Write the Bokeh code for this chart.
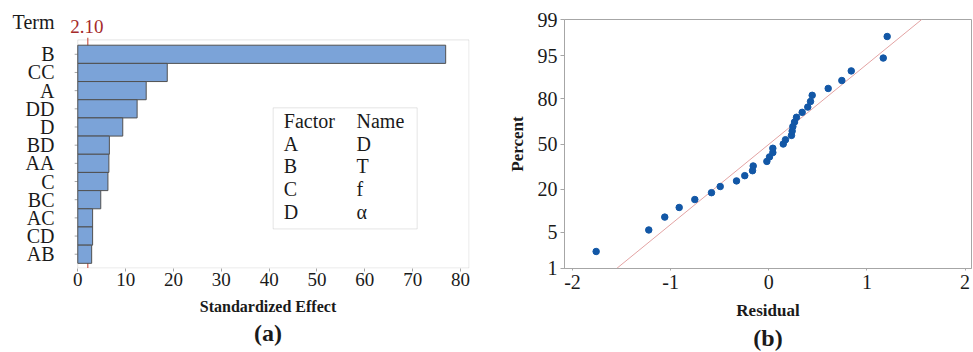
from statistics import NormalDist
from bokeh.plotting import figure
from bokeh.layouts import row
from bokeh.models import FixedTicker, Label, BoxAnnotation, Range1d, Title
from bokeh.embed import file_html
from bokeh.resources import INLINE

# ---------------- data ----------------
terms = ["B", "CC", "A", "DD", "D", "BD", "AA", "C", "BC", "AC", "CD", "AB"]
effects = [76.9, 18.7, 14.3, 12.4, 9.4, 6.6, 6.5, 6.3, 4.8, 3.1, 3.1, 2.9]
ref_value = 2.10
x_ticks_a = [0, 10, 20, 30, 40, 50, 60, 70, 80]

factors = ["A", "B", "C", "D"]
factor_names = ["D", "T", "f", "α"]

residuals = [-1.759, -1.223, -1.060, -0.913, -0.754, -0.584, -0.495, -0.329,
             -0.245, -0.166, -0.159, -0.020, 0.007, 0.041, 0.041, 0.147,
             0.170, 0.231, 0.238, 0.245, 0.262, 0.282, 0.340, 0.397,
             0.425, 0.442, 0.605, 0.744, 0.840, 1.166, 1.206]
percents = [2.23, 5.41, 8.60, 11.78, 14.97, 18.15, 21.34, 24.52, 27.71, 30.89,
            34.08, 37.26, 40.45, 43.63, 46.82, 50.00, 53.18, 56.37, 59.55,
            62.74, 65.92, 69.11, 72.29, 75.48, 78.66, 81.85, 85.03, 88.22,
            91.40, 94.59, 97.77]
pct_ticks = [1, 5, 20, 50, 80, 95, 99]
x_ticks_b = [-2, -1, 0, 1, 2]

# ---------------- style ----------------
FONT = "Liberation Serif"
TXT = "#1a1a1a"
GRAY = "#a6a6a6"
nd = NormalDist()


def zq(p):
    return round(nd.inv_cdf(p / 100.0), 6)


def style_axes(p):
    p.xgrid.visible = False
    p.ygrid.visible = False
    p.outline_line_width = 1
    for ax in (p.xaxis[0], p.yaxis[0]):
        ax.axis_line_color = GRAY
        ax.major_tick_line_color = GRAY
        ax.minor_tick_line_color = None
        ax.major_tick_in = 0
        ax.major_label_text_font = FONT
        ax.major_label_text_color = TXT
        ax.axis_label_text_font = FONT
        ax.axis_label_text_font_style = "bold"
        ax.axis_label_text_color = TXT


def bottom_title(p, text, standoff):
    p.add_layout(Title(text=text, align="center", text_font=FONT,
                       text_font_size="24px", text_font_style="bold",
                       text_color=TXT, standoff=standoff), "below")


# ---------------- (a) Pareto chart ----------------
n = len(terms)
ypos = [n - i for i in range(n)]
y_lo, y_top = 0.215, 13.914          # whole frame (texts above the box included)
box_bottom, box_top = 0.242, 12.79    # drawn chart frame
x_lo, x_hi = -2.36, 81.88
box_right = 81.78
term_y = 13.80

pa = figure(width=490, height=352, x_range=Range1d(x_lo, x_hi),
            y_range=Range1d(y_lo, y_top), output_backend="svg",
            toolbar_location=None, title_location=None,
            min_border_left=66, min_border_right=21,
            min_border_top=18, min_border_bottom=84)
style_axes(pa)
pa.outline_line_color = None
pa.yaxis.axis_line_color = None
pa.xaxis.axis_line_color = None

# visible chart frame
pa.add_layout(BoxAnnotation(left=0, right=box_right, bottom=box_bottom, top=box_top,
                            fill_alpha=0, line_color=GRAY, line_width=1,
                            level="underlay"))
# small category ticks on the left edge of the frame
pa.segment(x0=[-0.65] * n, y0=ypos, x1=[0] * n, y1=ypos, line_color=GRAY,
           line_width=1)
# reference line (hidden behind the bars)
pa.segment(x0=[ref_value], y0=[box_bottom], x1=[ref_value], y1=[box_top + 0.12],
           line_color="#c0392b", line_width=1)
pa.hbar(y=ypos, left=0, right=effects, height=1.0, fill_color="#7ba3d8",
        line_color="#505050", line_width=1)

pa.xaxis.ticker = FixedTicker(ticks=x_ticks_a)
pa.xaxis.major_label_text_font_size = "19px"
pa.xaxis.major_tick_out = 3
pa.xaxis.major_label_standoff = 1
pa.xaxis.axis_label = "Standardized Effect"
pa.xaxis.axis_label_text_font_size = "16px"
pa.xaxis.axis_label_standoff = 9

overrides_a = {y: t for y, t in zip(ypos, terms)}
overrides_a[term_y] = "Term"
pa.yaxis.ticker = FixedTicker(ticks=ypos + [term_y])
pa.yaxis.major_label_overrides = overrides_a
pa.yaxis.major_label_text_font_size = "20px"
pa.yaxis.major_tick_out = 0
pa.yaxis.major_label_standoff = 12

pa.add_layout(Label(x=1.9, y=13.53, text="2.10", text_font=FONT,
                    text_font_size="19px", text_color="#a52a2a",
                    text_baseline="middle", text_align="center"))

pa.add_layout(BoxAnnotation(left=40.84, right=70.94, bottom=2.391, top=9.053,
                            fill_color="white", fill_alpha=1.0,
                            line_color=GRAY, line_width=1))
rows_y = [8.325, 7.081, 5.837, 4.593, 3.349]
col1 = ["Factor"] + factors
col2 = ["Name"] + factor_names
for yy, a, b in zip(rows_y, col1, col2):
    pa.add_layout(Label(x=43.06, y=yy, text=a, text_font=FONT, text_font_size="20px",
                        text_color=TXT, text_baseline="middle", text_align="left"))
    pa.add_layout(Label(x=58.26, y=yy, text=b, text_font=FONT, text_font_size="20px",
                        text_color=TXT, text_baseline="middle", text_align="left"))

bottom_title(pa, "(a)", 0)

# ---------------- (b) normal probability plot ----------------
zvals = [nd.inv_cdf(p / 100.0) for p in percents]
mu = sum(residuals) / len(residuals)
sd = (sum((r - mu) ** 2 for r in residuals) / (len(residuals) - 1)) ** 0.5
zlo, zhi = nd.inv_cdf(0.01), nd.inv_cdf(0.99)

pb = figure(width=483, height=352, x_range=Range1d(-2.0815, 2.065),
            y_range=Range1d(zlo - 2e-6, zhi + 2e-6), output_backend="svg",
            toolbar_location=None, title_location=None,
            min_border_left=74, min_border_right=2,
            min_border_top=19, min_border_bottom=84)
style_axes(pb)
pb.outline_line_color = GRAY

pb.line(x=[mu + sd * zlo, mu + sd * zhi], y=[zlo, zhi], line_color="#e3a3a3",
        line_width=1)
pb.scatter(x=residuals, y=zvals, size=6.5, fill_color="#1257a6",
           line_color="#1257a6")

pb.xaxis.ticker = FixedTicker(ticks=x_ticks_b)
pb.xaxis.major_label_overrides = {t: ("-" + str(-t) if t < 0 else str(t)) for t in x_ticks_b}
pb.xaxis.major_label_text_font_size = "20px"
pb.xaxis.major_tick_out = 2
pb.xaxis.major_label_standoff = 4
pb.xaxis.axis_label = "Residual"
pb.xaxis.axis_label_text_font_size = "17px"
pb.xaxis.axis_label_standoff = 9

ztick = [zq(p) for p in pct_ticks]
pb.yaxis.ticker = FixedTicker(ticks=ztick)
pb.yaxis.major_label_overrides = {z: str(p) for z, p in zip(ztick, pct_ticks)}
pb.yaxis.major_label_text_font_size = "20px"
pb.yaxis.major_tick_out = 4
pb.yaxis.major_label_standoff = 3
pb.yaxis.axis_label = "Percent"
pb.yaxis.axis_label_text_font_size = "17px"
pb.yaxis.axis_label_standoff = 8

bottom_title(pb, "(b)", 0)

layout = row(pa, pb)
open("out.html", "w").write(file_html(layout, INLINE))
